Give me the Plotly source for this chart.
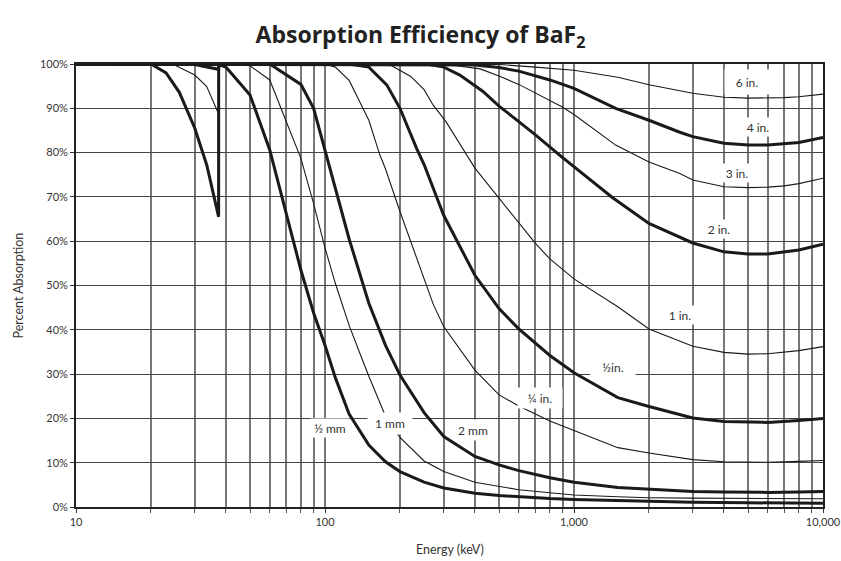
import math
import plotly.graph_objects as go

# ---------------- data (percent absorption vs energy in keV) ----------------
E_half_mm = [10, 20, 23, 26, 30, 33.5, 37.39, 37.41, 40, 50, 60, 80, 90, 100, 110, 125, 150, 175, 200, 250, 300, 400, 500, 600, 800, 1000, 1500, 2000, 3000, 5000, 8000, 10000]
A_half_mm = [100, 100, 98.0, 93.6, 85.5, 77.2, 65.5, 99.8, 99.3, 93.0, 80.6, 53.5, 43.8, 36.5, 29.2, 21.0, 14.0, 10.2, 8.0, 5.6, 4.3, 3.1, 2.6, 2.3, 1.9, 1.7, 1.4, 1.2, 1.05, 0.95, 0.9, 0.85]

E_1mm = [10, 20, 25, 30, 33.5, 37.39, 37.41, 50, 60, 80, 90, 100, 110, 125, 138, 150, 175, 200, 250, 300, 400, 500, 600, 800, 1000, 1500, 2000, 3000, 5000, 10000]
A_1mm = [100, 100, 99.7, 97.5, 94.9, 88.7, 100, 99.6, 96.4, 78.7, 68.5, 58.5, 50.5, 41.0, 34.7, 29.5, 20.5, 15.7, 10.4, 8.0, 5.6, 4.6, 3.9, 3.2, 2.7, 2.3, 2.1, 2.0, 1.9, 1.85]

E_2mm = [10, 30, 37.39, 37.41, 60, 80, 90, 100, 110, 125, 150, 175, 200, 250, 300, 400, 500, 600, 800, 1000, 1500, 2000, 3000, 4000, 5000, 6000, 8000, 10000]
A_2mm = [100, 99.9, 98.8, 100, 100, 95.4, 90.0, 80.5, 72.5, 60.5, 46.0, 36.5, 29.8, 21.3, 15.9, 11.4, 9.5, 8.2, 6.6, 5.6, 4.4, 4.0, 3.5, 3.4, 3.3, 3.3, 3.4, 3.5]

E_quarter_in = [10, 100, 110, 125, 142, 150, 166, 175, 200, 221, 250, 272, 300, 400, 500, 600, 800, 1000, 1500, 2000, 3000, 4000, 5000, 6000, 8000, 10000]
A_quarter_in = [100, 100, 99.3, 96.3, 90.0, 87.3, 79.5, 76.3, 66.7, 59.9, 51.5, 45.8, 40.7, 30.9, 25.3, 22.8, 19.4, 17.3, 13.4, 12.2, 10.7, 10.2, 10.1, 10.1, 10.3, 10.5]

E_half_in = [10, 125, 150, 177, 200, 233, 250, 300, 400, 500, 600, 700, 800, 1000, 1500, 2000, 3000, 4000, 5000, 6000, 8000, 10000]
A_half_in = [100, 100, 99.3, 95.3, 90.0, 81.0, 77.3, 65.8, 52.3, 44.8, 40.2, 37.0, 34.2, 30.3, 24.7, 22.7, 20.1, 19.3, 19.1, 19.1, 19.5, 20.0]

E_1in = [10, 180, 221, 250, 272, 306, 400, 500, 600, 700, 800, 1000, 1500, 2000, 3000, 4000, 5000, 6000, 8000, 10000]
A_1in = [100, 100, 97.2, 94.2, 90.7, 87.0, 76.5, 69.7, 64.0, 59.5, 56.0, 51.5, 45.2, 40.2, 36.3, 34.9, 34.5, 34.6, 35.3, 36.2]

E_2in = [10, 256, 300, 348, 431, 500, 600, 700, 890, 1000, 1430, 2000, 2660, 3000, 4000, 5000, 6000, 8000, 10000]
A_2in = [100, 100, 99.3, 97.5, 93.8, 90.5, 87.0, 84.0, 79.1, 76.8, 69.8, 64.0, 61.0, 59.6, 57.6, 57.1, 57.1, 58.0, 59.3]

E_3in = [10, 300, 420, 500, 600, 890, 1000, 1470, 2000, 2660, 3000, 4000, 5000, 6000, 7000, 8000, 10000]
A_3in = [100, 100, 98.9, 97.3, 95.4, 90.4, 88.6, 81.7, 77.9, 75.3, 73.8, 72.3, 72.1, 72.2, 72.5, 73.0, 74.2]

E_4in = [10, 400, 500, 600, 800, 1000, 1470, 2000, 2660, 3000, 4000, 5000, 6000, 8000, 10000]
A_4in = [100, 99.8, 99.2, 98.4, 96.4, 94.5, 90.0, 87.3, 84.6, 83.6, 82.1, 81.7, 81.7, 82.3, 83.4]

E_6in = [10, 500, 700, 1000, 1500, 2000, 3000, 4000, 5000, 6000, 7000, 8000, 10000]
A_6in = [100, 99.9, 99.3, 98.6, 97.0, 95.3, 93.4, 92.5, 92.3, 92.3, 92.4, 92.6, 93.2]

labels = ["½ mm", "1 mm", "2 mm", "¼ in.", "½in.", "1 in.", "2 in.", "3 in.", "4 in.", "6 in."]
x_tick_vals = [10, 100, 1000, 10000]
x_tick_text = ["10", "100", "1,000", "10,000"]

series = [
    (E_half_mm, A_half_mm), (E_1mm, A_1mm), (E_2mm, A_2mm),
    (E_quarter_in, A_quarter_in), (E_half_in, A_half_in), (E_1in, A_1in),
    (E_2in, A_2in), (E_3in, A_3in), (E_4in, A_4in), (E_6in, A_6in),
]

# ---------------- styling / layout ----------------
thick = [True, False, True, False, True, False, True, False, True, False]
# label placement (energy keV, percent, box width, box height)
label_pos = [
    (105, 17.8, 38, 18), (182, 18.9, 44, 21), (394, 17.4, 38, 20),
    (730, 24.5, 44, 20), (1440, 31.7, 44, 18), (2660, 43.3, 30, 18),
    (3830, 62.7, 30, 18), (4500, 75.5, 30, 18), (5500, 85.8, 28, 18),
    (4940, 96.0, 44, 24),
]

FONT = "Lato"
W, H = 841, 561
L, R, T, B = 76, 18, 64, 54
PLOT_W = W - L - R

fig = go.Figure()
for (ex, ay), th in zip(series, thick):
    fig.add_trace(go.Scatter(
        x=ex, y=ay, mode="lines",
        line=dict(color="#1a1a1a", width=3.0 if th else 1.1),
        showlegend=False, hoverinfo="skip",
    ))

for lab, (ex, ay, w, h) in zip(labels, label_pos):
    fig.add_annotation(
        x=math.log10(ex), y=ay, xref="x", yref="y", text=lab,
        showarrow=False, bgcolor="white", width=w, height=h, borderpad=0,
        font=dict(family=FONT, size=12, color="#333"),
    )

# axis titles
fig.add_annotation(
    x=(18 - L) / PLOT_W, y=0.5, xref="paper", yref="paper",
    text="Percent Absorption", showarrow=False, textangle=-90,
    xanchor="center", yanchor="middle",
    font=dict(family=FONT, size=12.5, color="#333"),
)
fig.add_annotation(
    x=0.5, y=0, xref="paper", yref="paper", yshift=-42,
    text="Energy (keV)", showarrow=False,
    xanchor="center", yanchor="middle",
    font=dict(family=FONT, size=12.5, color="#333"),
)

fig.update_layout(
    width=W, height=H,
    margin=dict(l=L, r=R, t=T, b=B, autoexpand=False),
    paper_bgcolor="white", plot_bgcolor="white",
    title=dict(
        text="<b>Absorption Efficiency of BaF<sub>2</sub></b>",
        x=0.5, xref="container", xanchor="center",
        y=1 - 35 / H, yref="container", yanchor="middle",
        font=dict(family="Open Sans", size=23, color="#222"),
    ),
    font=dict(family=FONT, size=11, color="#333"),
)

fig.update_xaxes(
    type="log", range=[1, 4], automargin=False,
    tickvals=x_tick_vals, ticktext=x_tick_text,
    showgrid=True, gridcolor="#777", gridwidth=1.5,
    ticks="outside", ticklen=4, tickcolor="#333",
    minor=dict(dtick="D1", showgrid=True, gridcolor="#777", gridwidth=1.5,
               ticks="outside", ticklen=4, tickcolor="#555"),
    showline=True, linecolor="#222", linewidth=1.5, mirror=True,
    tickfont=dict(family=FONT, size=11, color="#333"),
    zeroline=False,
)
fig.update_yaxes(
    range=[0, 100], dtick=10, ticksuffix="%", automargin=False,
    showgrid=True, gridcolor="#444", gridwidth=1.2,
    ticks="outside", ticklen=4, tickcolor="#333",
    showline=True, linecolor="#222", linewidth=1.8, mirror=True,
    tickfont=dict(family=FONT, size=11, color="#333"),
    zeroline=False,
)

# remove the default 8px page margin so the 841x561 figure fills the window
fig.write_html(
    "out.html",
    config={"displayModeBar": False},
    post_script="document.body.style.margin='0';document.body.style.overflow='hidden';",
)
